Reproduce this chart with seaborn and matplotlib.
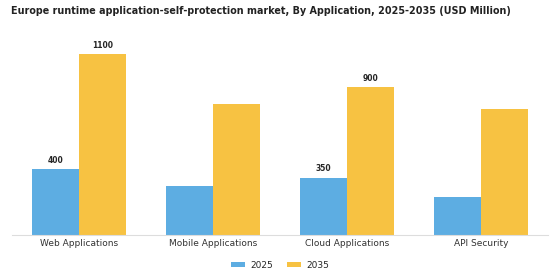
import pandas as pd
import seaborn as sns
import matplotlib.pyplot as plt

categories = ['Web Applications', 'Mobile Applications', 'Cloud Applications', 'API Security']
years = ['2025', '2035']
values_2025 = [400, 300, 350, 230]
values_2035 = [1100, 800, 900, 765]
# only some bars carry a value label in the original
labels_2025 = ['400', '', '350', '']
labels_2035 = ['1100', '', '900', '']

df = pd.DataFrame({
	'Application': categories * 2,
	'Year': [years[0]] * 4 + [years[1]] * 4,
	'Value': values_2025 + values_2035,
})

sns.set_style('white')
fig = plt.figure(figsize=(5.6, 2.8), dpi=100)
ax = fig.add_axes([0.021, 0.161, 0.958, 0.703])

p = sns.barplot(data=df, x='Application', y='Value', hue='Year',
				palette=['#5DADE2', '#F7C242'], width=0.7,
				saturation=1, linewidth=0, ax=ax, legend=True)

for cont, labs in zip(ax.containers, [labels_2025, labels_2035]):
	ax.bar_label(cont, labels=labs, fontsize=5.5, fontweight='bold', padding=3)

ax.set_ylim(0, 1200)
ax.set_xlim(-0.5, 3.5)
ax.set_xlabel('')
ax.set_ylabel('')
ax.set_yticks([])
ax.tick_params(axis='x', labelsize=6.5, length=0, pad=3, colors='#333333')
for s in ['top', 'right', 'left']:
	ax.spines[s].set_visible(False)
ax.spines['bottom'].set_color('#dddddd')
ax.spines['bottom'].set_linewidth(0.8)

ax.legend(loc='upper center', bbox_to_anchor=(0.5, -0.09), ncol=2, frameon=False,
		  fontsize=6.5, handlelength=1.5, handleheight=0.45, handletextpad=0.6,
		  columnspacing=1.6)

fig.text(0.466, 0.962, 'Europe runtime application-self-protection market, By Application, 2025-2035 (USD Million)',
		 ha='center', va='center', fontsize=6.95, fontweight='bold', color='#222222')

plt.savefig('out.png', dpi=100)
